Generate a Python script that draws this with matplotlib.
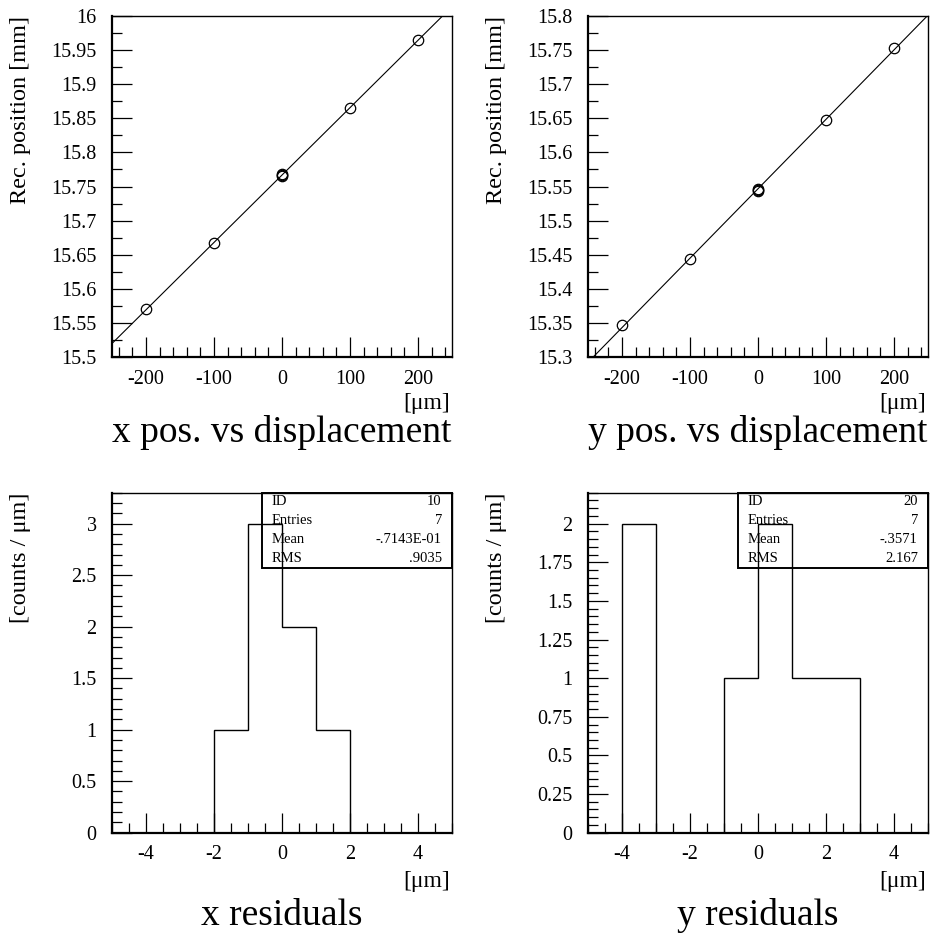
import numpy as np
import matplotlib
matplotlib.use("Agg")
import matplotlib.pyplot as plt
from matplotlib.ticker import MultipleLocator, FuncFormatter

plt.rcParams['font.family'] = ['Liberation Serif', 'DejaVu Serif']
plt.rcParams['axes.unicode_minus'] = False

# displacement scan (7 entries, three at nominal position)
displacement = [-200, -100, 0, 0, 0, 100, 200]
x_rec = [15.570, 15.667, 15.768, 15.767, 15.766, 15.865, 15.965]
y_rec = [15.3465, 15.444, 15.546, 15.545, 15.544, 15.648, 15.7535]

# residual histograms, 1 um bins from -5 to 5
bin_edges = list(range(-5, 6))
x_res_counts = [0, 0, 0, 1, 3, 2, 1, 0, 0, 0]
y_res_counts = [0, 2, 0, 0, 1, 2, 1, 1, 0, 0]

x_stats = [("ID", "10"), ("Entries", "7"), ("Mean", "-.7143E-01"), ("RMS", ".9035")]
y_stats = [("ID", "20"), ("Entries", "7"), ("Mean", "-.3571"), ("RMS", "2.167")]

fig = plt.figure(figsize=(9.32, 9.43), dpi=100)

W, H = 0.3648, 0.3605
ax1 = fig.add_axes([0.1202, 0.6214, W, 0.3616])
ax2 = fig.add_axes([0.6309, 0.6214, W, 0.3616])
ax3 = fig.add_axes([0.1202, 0.1170, W, H])
ax4 = fig.add_axes([0.6309, 0.1170, W, H])

fmt = FuncFormatter(lambda v, p: ("%g" % round(v, 4)))


def style(ax):
    for s in ["top", "right"]:
        ax.spines[s].set_linewidth(1.0)
    for s in ["bottom", "left"]:
        ax.spines[s].set_linewidth(1.6)
    ax.tick_params(which="both", direction="in", top=False, right=False,
                   width=0.9, labelsize=14.5)
    ax.tick_params(which="major", length=14.5)
    ax.tick_params(which="minor", length=7.2)
    ax.tick_params(axis="y", pad=11)
    ax.tick_params(axis="x", pad=9)
    ax.xaxis.set_major_formatter(fmt)
    ax.yaxis.set_major_formatter(fmt)


def labels(ax, ylab, title, unit_y, title_y):
    ax.text(-0.27, 1.0, ylab, transform=ax.transAxes, rotation=90,
            ha="center", va="top", fontsize=17.5)
    ax.text(0.995, unit_y, "[\u03bcm]", transform=ax.transAxes,
            ha="right", va="center", fontsize=17)
    ax.text(0.5, title_y, title, transform=ax.transAxes,
            ha="center", va="center", fontsize=27)


# position vs displacement
for ax, yv, ylim, title in [(ax1, x_rec, (15.5, 16.0), "x pos. vs displacement"),
                            (ax2, y_rec, (15.3, 15.8), "y pos. vs displacement")]:
    style(ax)
    slope, icpt = np.polyfit(displacement, yv, 1)
    xl = np.array([-250, 250])
    ax.plot(xl, slope * xl + icpt, color="k", lw=0.8)
    ax.plot(displacement, yv, "o", mfc="none", mec="k", ms=7.5, mew=0.9)
    ax.set_xlim(-250, 250)
    ax.set_ylim(*ylim)
    ax.xaxis.set_major_locator(MultipleLocator(100))
    ax.xaxis.set_minor_locator(MultipleLocator(20))
    ax.yaxis.set_major_locator(MultipleLocator(0.05))
    ax.yaxis.set_minor_locator(MultipleLocator(0.025))
    labels(ax, "Rec. position [mm]", title, -0.135, -0.22)

# residuals
for ax, counts, stats, maj, mnr, title in [
        (ax3, x_res_counts, x_stats, 0.5, 0.1, "x residuals"),
        (ax4, y_res_counts, y_stats, 0.25, 0.05, "y residuals")]:
    style(ax)
    ax.stairs(counts, bin_edges, color="k", lw=1.0, baseline=0)
    ax.set_xlim(-5, 5)
    ax.set_ylim(0, max(counts) * 1.1)
    ax.xaxis.set_major_locator(MultipleLocator(2))
    ax.xaxis.set_minor_locator(MultipleLocator(0.5))
    ax.yaxis.set_major_locator(MultipleLocator(maj))
    ax.yaxis.set_minor_locator(MultipleLocator(mnr))
    labels(ax, "[counts / \u03bcm]", title, -0.144, -0.243)

    # stats box
    x0, y0 = 0.44, 0.778
    ax.add_patch(plt.Rectangle((x0, y0), 1 - x0, 1 - y0, transform=ax.transAxes,
                               fill=False, ec="k", lw=1.4, clip_on=False))
    rows_y = [0.9735, 0.9175, 0.8615, 0.8055]
    for (name, val), ry in zip(stats, rows_y):
        ax.text(x0 + 0.03, ry, name, transform=ax.transAxes, ha="left",
                va="center", fontsize=10.5)
        ax.text(0.97, ry, val, transform=ax.transAxes, ha="right",
                va="center", fontsize=10.5)

fig.savefig("out.png", dpi=100)
